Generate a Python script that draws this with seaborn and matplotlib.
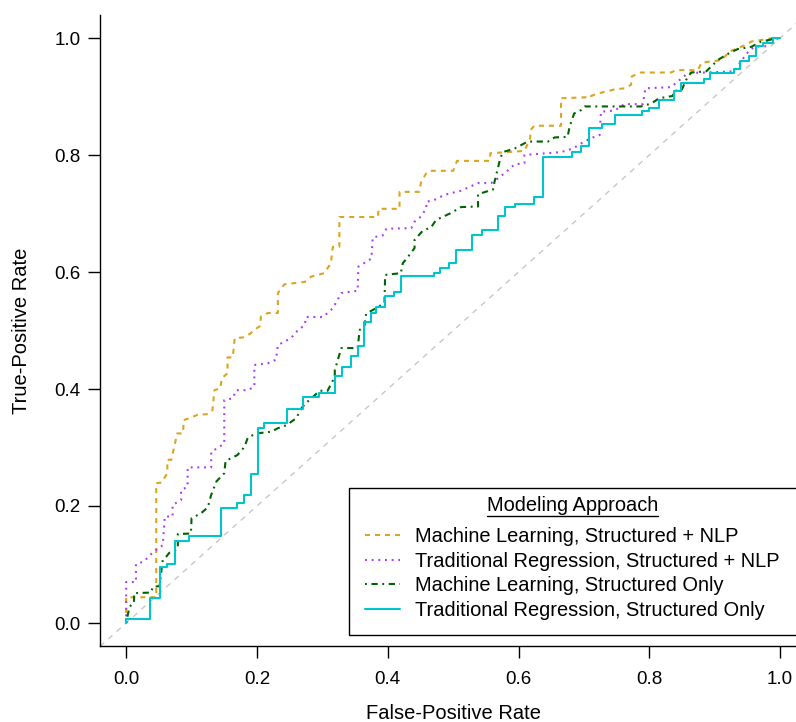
import numpy as np
import pandas as pd
import seaborn as sns
import matplotlib.pyplot as plt
from matplotlib.ticker import FormatStrFormatter
from matplotlib.lines import Line2D
from matplotlib.patches import Rectangle

# ---------------- data ----------------
labels = [
    "Machine Learning, Structured + NLP",
    "Traditional Regression, Structured + NLP",
    "Machine Learning, Structured Only",
    "Traditional Regression, Structured Only",
]

ml_nlp_fpr = [0, 0, 0.046, 0.046, 0.054, 0.063, 0.063, 0.069, 0.078, 0.087, 0.088, 0.097,
              0.109, 0.125, 0.132, 0.135, 0.144, 0.146, 0.155, 0.155, 0.163, 0.166, 0.178,
              0.189, 0.196, 0.205, 0.206, 0.217, 0.232, 0.232, 0.242, 0.273, 0.283, 0.303,
              0.313, 0.316, 0.326, 0.326, 0.385, 0.386, 0.418, 0.418, 0.448, 0.451, 0.459,
              0.464, 0.500, 0.506, 0.556, 0.557, 0.609, 0.618, 0.618, 0.624, 0.665, 0.665,
              0.711, 0.711, 0.721, 0.736, 0.746, 0.762, 0.772, 0.773, 0.785, 0.833, 0.841,
              0.874, 0.880, 0.910, 0.923, 0.947, 0.956, 0.974, 0.989, 1.0]
ml_nlp_tpr = [0, 0.044, 0.044, 0.239, 0.240, 0.256, 0.279, 0.279, 0.324, 0.324, 0.347, 0.350,
              0.356, 0.357, 0.364, 0.398, 0.401, 0.418, 0.427, 0.454, 0.454, 0.487, 0.488,
              0.494, 0.501, 0.508, 0.524, 0.530, 0.530, 0.564, 0.579, 0.583, 0.592, 0.598,
              0.615, 0.643, 0.643, 0.694, 0.694, 0.708, 0.708, 0.737, 0.737, 0.754, 0.769,
              0.773, 0.773, 0.790, 0.790, 0.803, 0.807, 0.829, 0.842, 0.850, 0.850, 0.897,
              0.899, 0.901, 0.905, 0.909, 0.912, 0.914, 0.920, 0.934, 0.941, 0.941, 0.945,
              0.945, 0.958, 0.962, 0.977, 0.988, 0.994, 0.997, 1.0, 1.0]

tr_nlp_fpr = [0, 0, 0.015, 0.015, 0.027, 0.041, 0.056, 0.059, 0.071, 0.071, 0.084, 0.084,
              0.094, 0.094, 0.130, 0.130, 0.140, 0.150, 0.150, 0.163, 0.168, 0.186, 0.196,
              0.196, 0.217, 0.229, 0.232, 0.252, 0.263, 0.273, 0.275, 0.301, 0.316, 0.329,
              0.354, 0.355, 0.375, 0.377, 0.393, 0.398, 0.436, 0.441, 0.451, 0.459, 0.459,
              0.471, 0.487, 0.512, 0.538, 0.558, 0.571, 0.584, 0.594, 0.609, 0.609, 0.665,
              0.683, 0.696, 0.711, 0.724, 0.726, 0.747, 0.762, 0.790, 0.794, 0.833, 0.844,
              0.859, 0.930, 0.940, 0.953, 0.961, 0.979, 0.981, 1.0]
tr_nlp_tpr = [0, 0.070, 0.070, 0.101, 0.105, 0.121, 0.133, 0.182, 0.182, 0.202, 0.210, 0.227,
              0.233, 0.266, 0.266, 0.293, 0.299, 0.307, 0.381, 0.384, 0.398, 0.398, 0.404,
              0.441, 0.444, 0.450, 0.475, 0.487, 0.501, 0.509, 0.523, 0.523, 0.538, 0.564,
              0.568, 0.609, 0.623, 0.659, 0.663, 0.674, 0.675, 0.686, 0.695, 0.709, 0.720,
              0.723, 0.732, 0.739, 0.752, 0.752, 0.762, 0.774, 0.784, 0.786, 0.800, 0.805,
              0.811, 0.820, 0.829, 0.834, 0.874, 0.876, 0.887, 0.887, 0.914, 0.916, 0.926,
              0.940, 0.943, 0.960, 0.979, 0.985, 0.986, 0.999, 1.0]

ml_str_fpr = [0, 0.002, 0.005, 0.012, 0.012, 0.038, 0.041, 0.051, 0.054, 0.056, 0.061, 0.066,
              0.073, 0.079, 0.079, 0.099, 0.100, 0.115, 0.125, 0.130, 0.138, 0.150, 0.152,
              0.161, 0.170, 0.181, 0.186, 0.199, 0.222, 0.232, 0.245, 0.260, 0.268, 0.275,
              0.296, 0.308, 0.319, 0.319, 0.329, 0.354, 0.357, 0.364, 0.367, 0.382, 0.395,
              0.396, 0.420, 0.423, 0.431, 0.441, 0.441, 0.454, 0.466, 0.474, 0.497, 0.512,
              0.538, 0.538, 0.561, 0.563, 0.572, 0.576, 0.594, 0.614, 0.645, 0.655, 0.675,
              0.678, 0.685, 0.696, 0.701, 0.787, 0.803, 0.815, 0.836, 0.838, 0.849, 0.856,
              0.864, 0.887, 0.897, 0.907, 0.922, 0.935, 0.956, 0.971, 0.989, 1.0]
ml_str_tpr = [0, 0.011, 0.028, 0.034, 0.051, 0.052, 0.062, 0.063, 0.091, 0.108, 0.113, 0.120,
              0.122, 0.128, 0.152, 0.153, 0.179, 0.188, 0.198, 0.219, 0.242, 0.256, 0.277,
              0.282, 0.287, 0.301, 0.317, 0.324, 0.327, 0.333, 0.338, 0.350, 0.367, 0.376,
              0.397, 0.397, 0.421, 0.432, 0.470, 0.470, 0.501, 0.506, 0.529, 0.538, 0.547,
              0.595, 0.598, 0.615, 0.626, 0.641, 0.655, 0.671, 0.676, 0.689, 0.701, 0.711,
              0.712, 0.733, 0.741, 0.753, 0.794, 0.805, 0.811, 0.823, 0.823, 0.830, 0.831,
              0.848, 0.871, 0.877, 0.883, 0.883, 0.888, 0.897, 0.901, 0.910, 0.910, 0.928,
              0.941, 0.943, 0.954, 0.964, 0.974, 0.981, 0.985, 0.994, 0.998, 1.0]

# step corners (value reached after each vertical rise)
tr_str_fpr = [0, 0, 0.037, 0.051, 0.062, 0.075, 0.096, 0.145, 0.170, 0.180, 0.191, 0.201,
              0.211, 0.246, 0.270, 0.295, 0.320, 0.330, 0.344, 0.354, 0.364, 0.374, 0.382,
              0.396, 0.410, 0.420, 0.470, 0.480, 0.494, 0.505, 0.529, 0.544, 0.568, 0.580,
              0.594, 0.623, 0.638, 0.682, 0.696, 0.707, 0.727, 0.748, 0.789, 0.799, 0.814,
              0.837, 0.849, 0.884, 0.893, 0.929, 0.938, 0.953, 0.963, 0.974, 0.989, 1.0]
tr_str_tpr = [0, 0.006, 0.042, 0.095, 0.101, 0.140, 0.149, 0.197, 0.205, 0.218, 0.255, 0.334,
              0.342, 0.365, 0.387, 0.393, 0.423, 0.438, 0.456, 0.474, 0.515, 0.530, 0.541,
              0.559, 0.565, 0.594, 0.599, 0.607, 0.615, 0.638, 0.663, 0.672, 0.696, 0.711,
              0.716, 0.728, 0.796, 0.805, 0.816, 0.847, 0.853, 0.868, 0.875, 0.880, 0.894,
              0.910, 0.923, 0.930, 0.941, 0.947, 0.961, 0.970, 0.986, 0.992, 1.0, 1.0]

tick_values = [0.0, 0.2, 0.4, 0.6, 0.8, 1.0]

# ---------------- styling ----------------
sns.set_theme(style="white")
plt.rcParams["font.family"] = ["Liberation Sans", "DejaVu Sans"]

W, H = 796, 722
fig = plt.figure(figsize=(W / 100, H / 100), dpi=100)
ax = fig.add_axes([100 / W, 75.6 / H, 706.3 / W, 631.8 / H])

ax.axline((0, 0), (1, 1), color="#C8C8C8", lw=1.0, linestyle=(0, (4, 4)), zorder=1)

series = [
    (ml_nlp_fpr, ml_nlp_tpr, "#DAA520", (0, (2.4, 2.4)), "default"),
    (tr_nlp_fpr, tr_nlp_tpr, "#A83DF0", (0, (0.9, 2.3)), "default"),
    (ml_str_fpr, ml_str_tpr, "#006400", (0, (0.9, 2.2, 3.0, 2.2)), "default"),
    (tr_str_fpr, tr_str_tpr, "#00C5CD", "solid", "steps-post"),
]
for (fx, ty, col, ls, dstyle), lab in zip(series, labels):
    sns.lineplot(x=fx, y=ty, sort=False, estimator=None, color=col, linestyle=ls,
                 lw=1.5, drawstyle=dstyle, label=lab, ax=ax, zorder=3)

ax.set_xlim(-0.04, 1.04)
ax.set_ylim(-0.04, 1.04)
ax.set_xticks(tick_values)
ax.set_yticks(tick_values)
ax.xaxis.set_major_formatter(FormatStrFormatter("%.1f"))
ax.yaxis.set_major_formatter(FormatStrFormatter("%.1f"))

sns.despine(ax=ax)
for s in ("left", "bottom"):
    ax.spines[s].set_color("black")
    ax.spines[s].set_linewidth(1.0)
ax.tick_params(axis="both", which="major", direction="out", length=8.6, width=1.0,
               color="black", labelsize=13.5, labelcolor="black", bottom=True, left=True)
ax.tick_params(axis="x", pad=9.0)
ax.tick_params(axis="y", pad=5.5)

ax.set_xlabel("False-Positive Rate", fontsize=14.5, color="black")
ax.set_ylabel("True-Positive Rate", fontsize=14.5, color="black")
ax.xaxis.set_label_coords(0.5, -0.091)
ax.yaxis.set_label_coords(-0.097, 0.5)

# legend box (opaque, black border, running off the right edge)
ax.add_patch(Rectangle((349 / W, (H - 635) / H), (810 - 349) / W, 147 / H,
                       transform=fig.transFigure, clip_on=False, facecolor="white",
                       edgecolor="black", lw=1.0, zorder=4))

handles, labs = ax.get_legend_handles_labels()
leg = ax.legend(handles, labs, title="Modeling Approach", loc="lower left",
                bbox_to_anchor=(365 / W, (H - 619.5) / H), bbox_transform=fig.transFigure,
                frameon=False, fontsize=14.4, title_fontsize=14.4,
                borderaxespad=0, borderpad=0, handlelength=1.75,
                handletextpad=0.75, labelspacing=0.27)
leg.set_zorder(5)
leg._legend_box.sep = 8.8
for t in leg.get_texts():
    t.set_color("black")
leg.get_title().set_color("black")

# underline the legend title
fig.canvas.draw()
bb = leg.get_title().get_window_extent(fig.canvas.get_renderer())
fig.add_artist(Line2D([bb.x0, bb.x1], [bb.y0 - 1, bb.y0 - 1], color="black", lw=1.0,
                      transform=None, zorder=6))

fig.savefig("out.png", dpi=100)
